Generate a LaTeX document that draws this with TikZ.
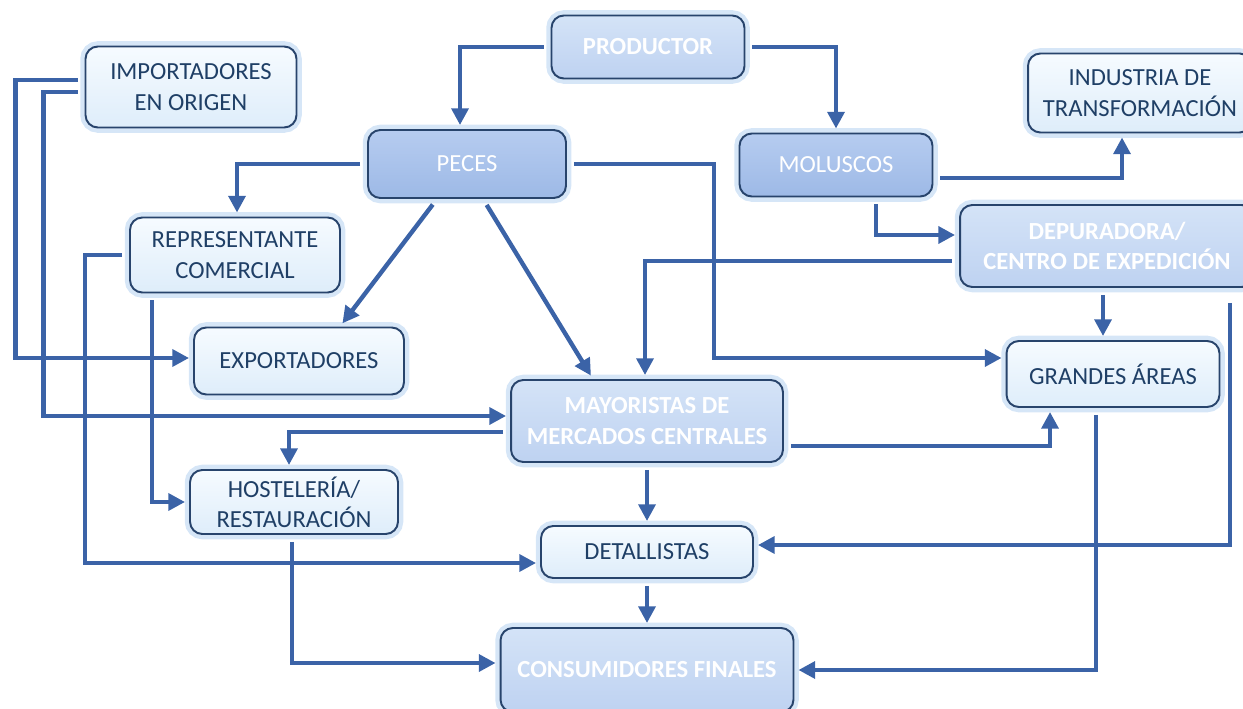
\documentclass[tikz,border=0pt]{standalone}
\usepackage{fontspec}
\setmainfont{Carlito}
\usetikzlibrary{arrows.meta}
\definecolor{azul}{RGB}{59,99,167}
\definecolor{borde}{RGB}{40,68,108}
\definecolor{brillo}{RGB}{214,230,247}
\definecolor{texto}{RGB}{31,63,102}
\definecolor{claraA}{RGB}{246,251,255}
\definecolor{claraB}{RGB}{222,237,250}
\definecolor{mediaA}{RGB}{212,227,247}
\definecolor{mediaB}{RGB}{190,210,241}
\definecolor{oscA}{RGB}{182,204,240}
\definecolor{oscB}{RGB}{157,185,230}
\begin{document}
\begin{tikzpicture}[x=0.02cm,y=-0.02cm,
	caja/.style={rounded corners=7pt,line width=1.1pt,draw=borde,inner sep=0pt,align=center,
		font=\fontsize{14}{17.2}\selectfont,preaction={draw=brillo,line width=6pt}},
	clara/.style={caja,top color=claraA,bottom color=claraB,text=texto},
	media/.style={caja,top color=mediaA,bottom color=mediaB,text=white,font=\fontsize{14}{17.2}\selectfont\bfseries},
	oscura/.style={caja,top color=oscA,bottom color=oscB,text=white},
	flecha/.style={draw=azul,line width=2.5pt,-{Triangle[length=9.5pt,width=9.5pt]},shorten <=0.14cm,shorten >=0.08cm}]
	\useasboundingbox (0,0) rectangle (1243,709);
	% Kaesten
	\node[media,minimum width=3.86cm,minimum height=1.26cm] (prod) at (648,47) {PRODUCTOR};
	\node[clara,minimum width=4.22cm,minimum height=1.62cm] (imp) at (191,87) {IMPORTADORES\\EN ORIGEN};
	\node[clara,minimum width=4.48cm,minimum height=1.58cm] (ind) at (1140,93) {INDUSTRIA DE\\TRANSFORMACIÓN};
	\node[oscura,minimum width=3.96cm,minimum height=1.36cm] (peces) at (467,164) {PECES};
	\node[oscura,minimum width=3.86cm,minimum height=1.26cm] (mol) at (836,165) {MOLUSCOS};
	\node[clara,minimum width=4.2cm,minimum height=1.5cm] (rep) at (235,255) {REPRESENTANTE\\COMERCIAL};
	\node[media,minimum width=5.88cm,minimum height=1.64cm] (dep) at (1107,246) {DEPURADORA/\\CENTRO DE EXPEDICIÓN};
	\node[clara,minimum width=4.2cm,minimum height=1.34cm] (exp) at (299,361) {EXPORTADORES};
	\node[clara,minimum width=4.26cm,minimum height=1.32cm] (ga) at (1113,374) {GRANDES ÁREAS};
	\node[media,minimum width=5.44cm,minimum height=1.64cm] (may) at (647,421) {MAYORISTAS DE\\MERCADOS CENTRALES};
	\node[clara,minimum width=4.16cm,minimum height=1.28cm] (host) at (294,502) {HOSTELERÍA/\\RESTAURACIÓN};
	\node[clara,minimum width=4.24cm,minimum height=1.04cm] (det) at (647,552) {DETALLISTAS};
	\node[media,minimum width=5.86cm,minimum height=1.68cm] (cons) at (647,670) {CONSUMIDORES FINALES};
	% Pfeile oben
	\draw[flecha] (prod.west) -| ([xshift=-0.14cm]peces.north);%Produktor links
	\draw[flecha] (prod.east) -| (mol.north);%Produktor rechts
	\draw[flecha] (peces.west) -| ([xshift=0.04cm]rep.north);
	\draw[flecha] ([xshift=-0.6cm]peces.south) -- ([xshift=0.82cm]exp.north);%schraeg links
	\draw[flecha] ([xshift=0.32cm]peces.south) -- ([xshift=-1.08cm]may.north);%schraeg rechts
	\draw[flecha] (peces.east) -- ++(147,0) |- ([yshift=0.32cm]ga.west);
	\draw[flecha] ([yshift=-0.26cm]mol.east) -| ([xshift=-0.36cm]ind.south);
	\draw[flecha] ([xshift=0.8cm]mol.south) |- ([yshift=0.22cm]dep.west);
	\draw[flecha] ([yshift=-0.3cm]dep.west) -| ([xshift=-0.04cm]may.north);
	\draw[flecha] ([xshift=-0.2cm]ga.north |- dep.south) -- ([xshift=-0.2cm]ga.north);
	\draw[flecha,shorten <=0.3cm] ([xshift=2.46cm]dep.south) |- ([yshift=0.14cm]det.east);%rechter Rand
	% Pfeile links
	\draw[flecha] ([yshift=0.14cm]imp.west) -- ++(-69,0) |- ([yshift=0.06cm]exp.west);
	\draw[flecha] ([yshift=-0.1cm]imp.west) -- ++(-41,0) |- ([yshift=0.1cm]may.west);
	\draw[flecha] (rep.west) -- ++(-44,0) |- ([yshift=-0.22cm]det.west);
	\draw[flecha] ([xshift=-1.66cm]rep.south) |- (host.west);
	\draw[flecha] ([xshift=-0.04cm]host.south) |- ([yshift=0.14cm]cons.west);
	% Pfeile unten
	\draw[flecha] ([yshift=-0.22cm]may.west) -| ([xshift=-0.1cm]host.north);
	\draw[flecha] ([yshift=-0.5cm]may.east) -| ([xshift=-1.26cm]ga.south);
	\draw[flecha] (may.south) -- (det.north);
	\draw[flecha] (det.south) -- (cons.north);
	\draw[flecha] ([xshift=-0.34cm]ga.south) |- (cons.east);

\end{tikzpicture}
\end{document}
